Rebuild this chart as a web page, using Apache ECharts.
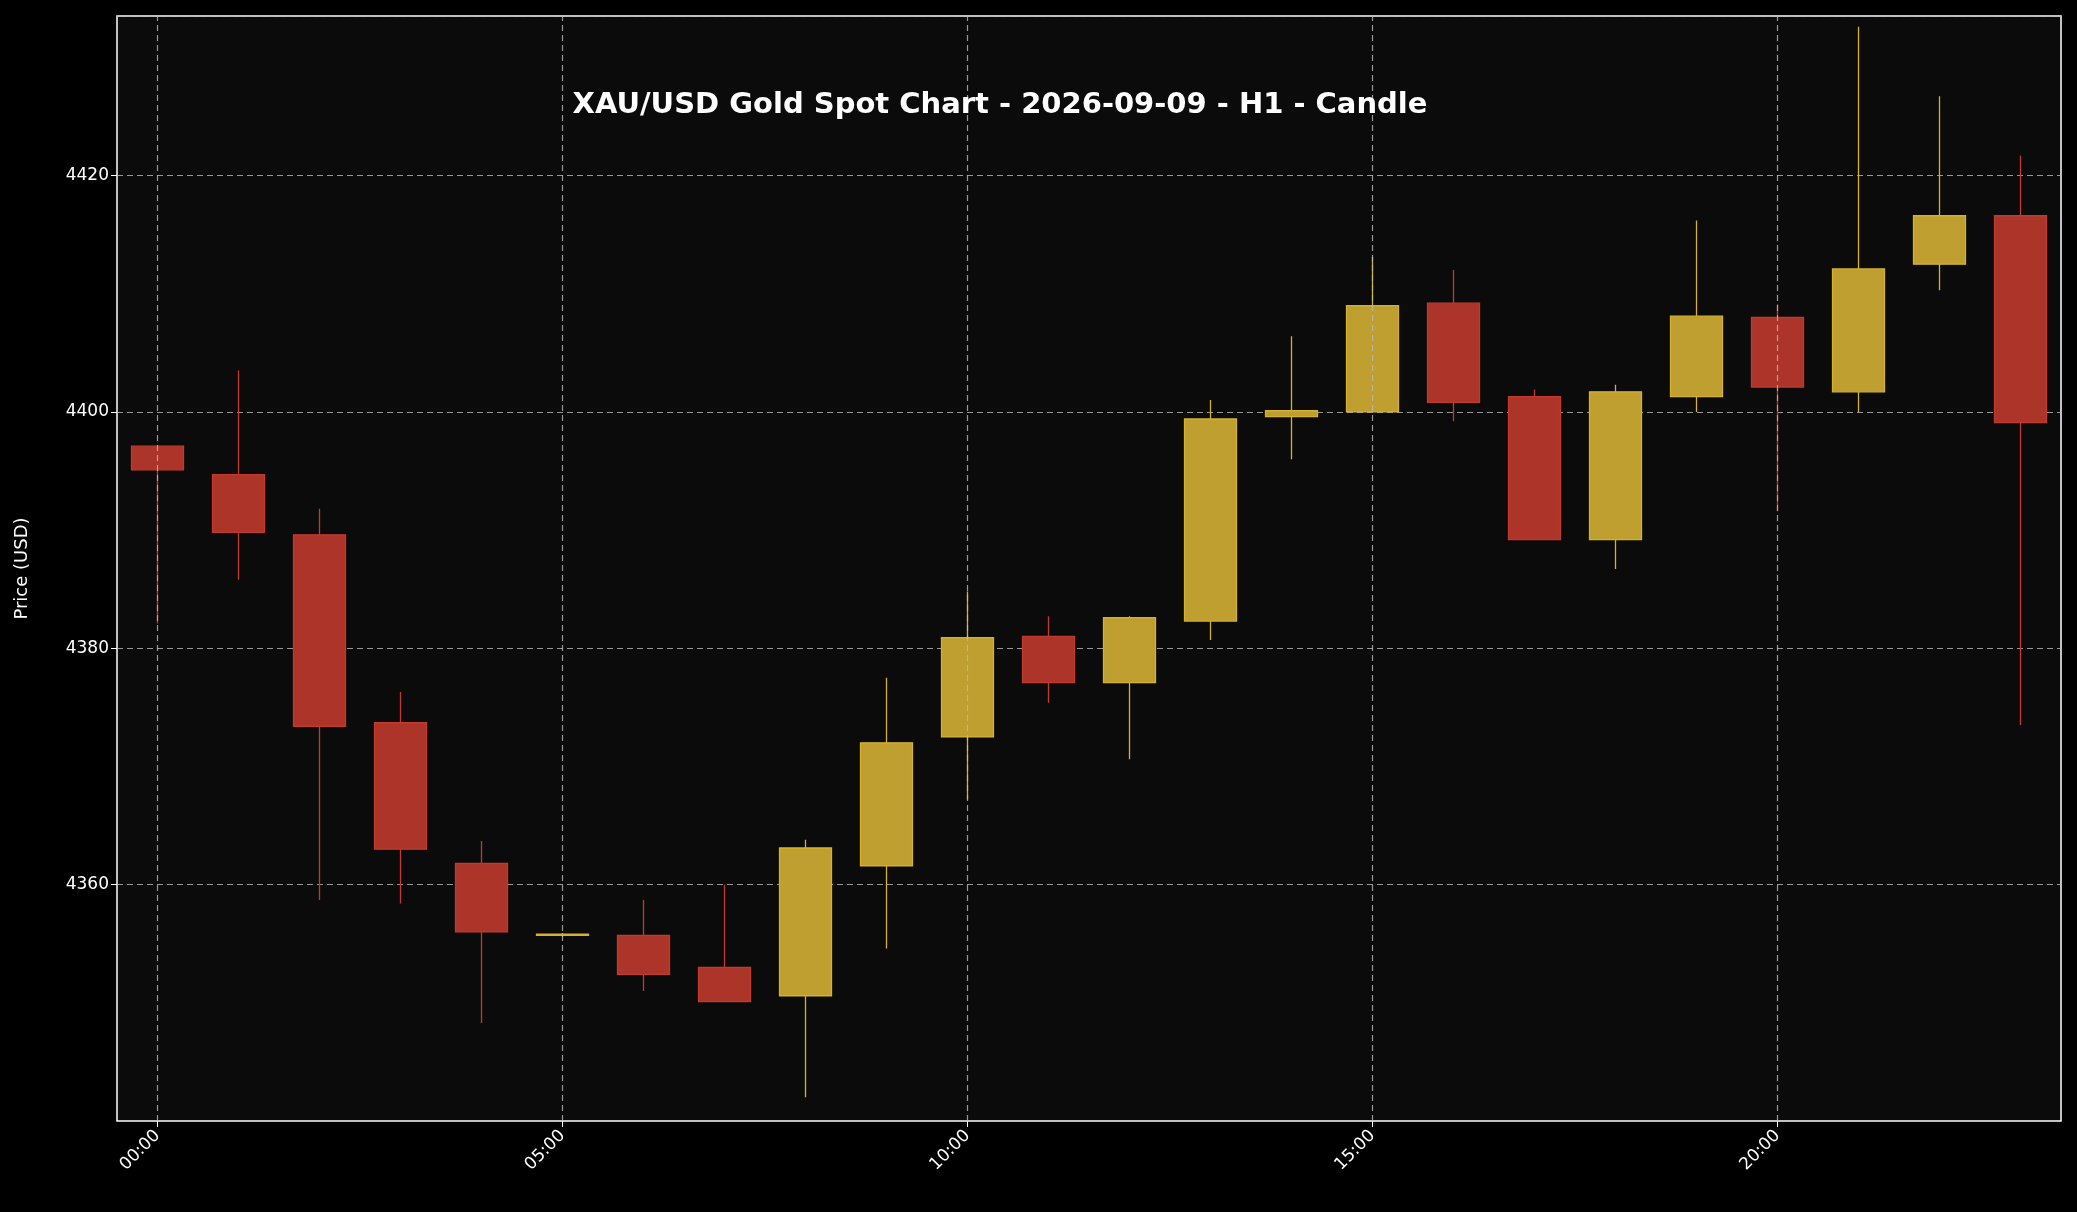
<!DOCTYPE html>
<html><head><meta charset="utf-8">
<script src="https://cdn.jsdelivr.net/npm/echarts@6/dist/echarts.min.js"></script>
<style>html,body{margin:0;background:#000}#c{width:2077px;height:1212px}</style>
</head><body><div id="c"></div>
<script>
const hours = ["00:00","01:00","02:00","03:00","04:00","05:00","06:00","07:00","08:00","09:00","10:00","11:00","12:00","13:00","14:00","15:00","16:00","17:00","18:00","19:00","20:00","21:00","22:00","23:00"];
const opens  = [4397.1,4394.7,4389.6,4373.7,4361.8,4355.7,4355.7,4353.0,4350.6,4361.6,4372.5,4381.0,4377.1,4382.3,4399.6,4400.0,4409.2,4401.3,4389.2,4401.3,4408.0,4401.7,4412.5,4416.6];
const closes = [4395.1,4389.8,4373.4,4363.0,4356.0,4355.8,4352.4,4350.1,4363.1,4372.0,4380.9,4377.1,4382.6,4399.4,4400.1,4409.0,4400.8,4389.2,4401.7,4408.1,4402.1,4412.1,4416.6,4399.1];
const lows   = [4382.1,4385.8,4358.7,4358.4,4348.3,4355.6,4351.0,4350.1,4342.0,4354.6,4367.2,4375.4,4370.6,4380.7,4396.0,4400.0,4399.2,4389.2,4386.7,4400.0,4391.6,4400.0,4410.3,4373.5];
const highs  = [4397.2,4403.5,4391.8,4376.3,4363.7,4355.9,4358.7,4360.0,4363.8,4377.5,4384.8,4382.7,4382.7,4401.0,4406.4,4413.1,4412.0,4401.9,4402.3,4416.2,4409.1,4432.6,4426.7,4421.7];
const yTicks = [4360,4380,4400,4420];
const xTickLabels = ["00:00","05:00","10:00","15:00","20:00"];

const data = hours.map((h,i)=>[opens[i],closes[i],lows[i],highs[i]]);
const chart = echarts.init(document.getElementById('c'));
chart.setOption({
  backgroundColor:'#000',
  animation:false,
  title:{text:'XAU/USD Gold Spot Chart - 2026-09-09 - H1 - Candle',left:995,top:86,textAlign:'center',
    textStyle:{color:'#fff',fontSize:29,fontWeight:'bold',fontFamily:'DejaVu Sans'}},
  grid:{left:117,right:16,top:16,bottom:91,show:true,backgroundColor:'#0b0b0b',borderColor:'#fff',borderWidth:1.5},
  xAxis:{type:'category',data:hours,boundaryGap:true,
    axisLine:{show:false},
    axisTick:{show:true,alignWithLabel:true,interval:(i)=>i%5===0,lineStyle:{color:'#fff'},length:6},
    axisLabel:{interval:(i)=>i%5===0,rotate:45,color:'#fff',fontSize:17,fontFamily:'DejaVu Sans',margin:12},
    splitLine:{show:false}},
  yAxis:{type:'value',min:4340,max:4433.5,interval:20,scale:true,
    name:'Price (USD)',nameLocation:'middle',nameGap:86,nameRotate:90,
    nameTextStyle:{color:'#fff',fontSize:18,fontFamily:'DejaVu Sans'},
    axisLine:{show:false},axisTick:{show:true,lineStyle:{color:'#fff'},length:6},
    axisLabel:{color:'#fff',fontSize:17,fontFamily:'DejaVu Sans',showMinLabel:false,showMaxLabel:false,
      formatter:v=>yTicks.includes(v)?String(v):''},
    splitLine:{show:true,lineStyle:{color:'#bbb',type:[6,4],width:1.2,opacity:0.8}}},
  series:[{type:'candlestick',data:data,barWidth:'65%',
    itemStyle:{color:'#bf9f30',color0:'#ad3428',borderColor:'#d6b22c',borderColor0:'#c23a2c',borderWidth:1.3},
    markLine:{silent:true,symbol:'none',label:{show:false},
      lineStyle:{color:'#bbb',type:[6,4],width:1.2,opacity:0.8},
      data:xTickLabels.map(x=>({xAxis:x}))}}]
});
</script></body></html>
